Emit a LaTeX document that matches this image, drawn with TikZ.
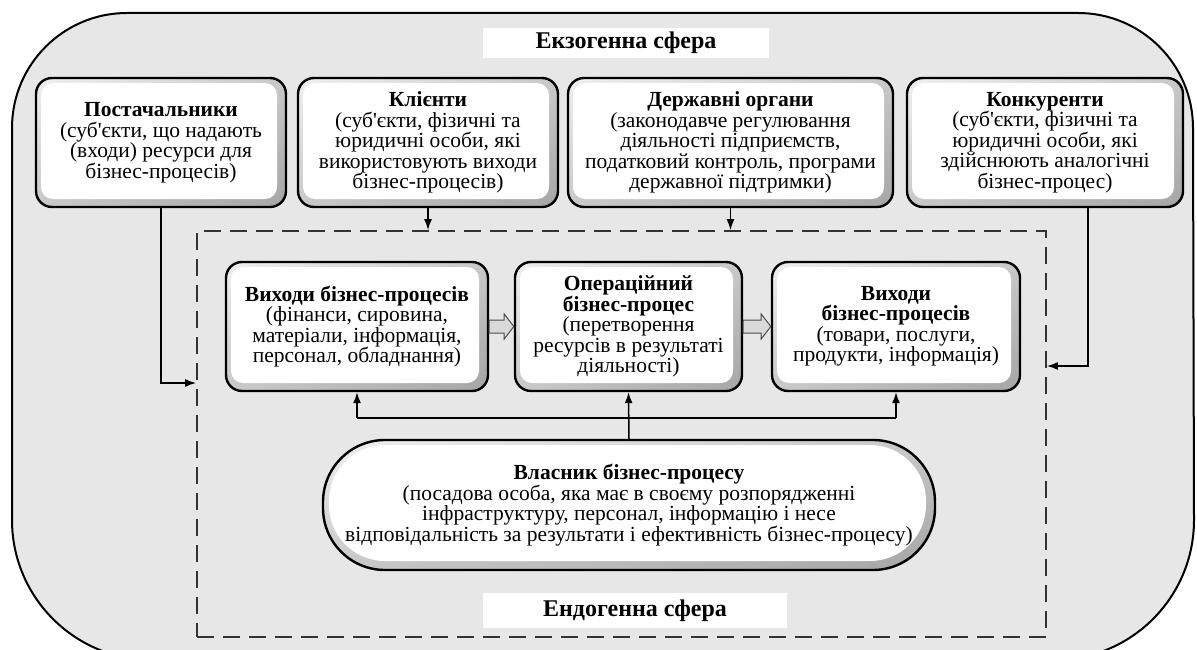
\documentclass[tikz,border=0pt]{standalone}
\usepackage{fontspec}
\setmainfont{Liberation Serif}[Ligatures=TeXOff]
\usetikzlibrary{calc,arrows.meta,shadings}
\definecolor{bgc}{RGB}{231,231,231}
\definecolor{bandlt}{RGB}{240,240,240}
\definecolor{bandmd}{RGB}{200,200,200}
\definecolor{banddk}{RGB}{165,165,165}
\tikzset{
  bev/.style={draw=black, line width=2.4pt, rounded corners=16pt, align=center, inner sep=0pt,
    path picture={
      \shade[upper left=bandlt, upper right=bandmd, lower left=bandmd, lower right=banddk]
        (path picture bounding box.south west) rectangle (path picture bounding box.north east);
      \fill[white, rounded corners=12pt]
        ([shift={(5pt,8pt)}]path picture bounding box.south west) rectangle
        ([shift={(-9pt,-5pt)}]path picture bounding box.north east);
    }},
  pill/.style={draw=black, line width=2.4pt, rounded corners=62pt, align=center, inner sep=0pt,
    path picture={
      \shade[upper left=bandlt, upper right=bandmd, lower left=bandmd, lower right=banddk]
        (path picture bounding box.south west) rectangle (path picture bounding box.north east);
      \fill[white, rounded corners=56pt]
        ([shift={(6pt,9pt)}]path picture bounding box.south west) rectangle
        ([shift={(-9pt,-5pt)}]path picture bounding box.north east);
    }},
  lbl/.style={fill=white, inner sep=0pt, font=\fontsize{24}{26}\selectfont\bfseries},
  arr/.style={draw=black, line width=1.5pt, -{Latex[length=11pt,width=8pt]}},
  ln/.style={draw=black, line width=1.5pt},
  barrow/.style={draw=gray!60!black, line width=1pt, fill=gray!30},
  endozone/.style={draw=black!80, line width=1.8pt, dash pattern=on 17pt off 9pt, inner sep=0pt}
}
\begin{document}
\begin{tikzpicture}[x=1pt, y=-1pt, font=\fontsize{21.5}{20.5}\selectfont]
\useasboundingbox (0,0) rectangle (1197,650);
\fill[white] (0,0) rectangle (1197,650);
% outer exogenous sphere
\draw[line width=2pt, fill=bgc]
  (127,13) -- (1078,13) arc[start angle=90, end angle=0, radius=115pt]
  -- (1194,520) arc[start angle=0, end angle=-90, radius=140pt]
  -- (152,660) arc[start angle=-90, end angle=-180, radius=140pt]
  -- (12,128) arc[start angle=180, end angle=90, radius=115pt] -- cycle;

\node[lbl, minimum width=286pt, minimum height=30pt] (exo) at (626,43) {Екзогенна сфера};

% endogenous zone
\node[endozone, minimum width=849pt, minimum height=406pt] (endo) at (621.5,434) {};
\node[lbl, minimum width=304pt, minimum height=35pt] (endolbl) at (635,610.5) {Ендогенна сфера};

% top boxes
\node[bev, minimum width=250pt, minimum height=129pt] (supp) at (161,142.5)
  {\textbf{Постачальники}\\(суб'єкти, що надають\\(входи) ресурси для\\бізнес-процесів)};
\node[bev, minimum width=260pt, minimum height=129pt] (cli) at (428,142.5)
  {\textbf{Клієнти}\\(суб'єкти, фізичні та\\юридичні особи, які\\використовують виходи\\бізнес-процесів)};
\node[bev, minimum width=325pt, minimum height=129pt] (gov) at (730.5,142.5)
  {\textbf{Державні органи}\\(законодавче регулювання\\діяльності підприємств,\\податковий контроль, програми\\державної підтримки)};
\node[bev, minimum width=276pt, minimum height=129pt] (comp) at (1045,142.5)
  {\textbf{Конкуренти}\\(суб'єкти, фізичні та\\юридичні особи, які\\здійснюють аналогічні\\бізнес-процес)};

% middle boxes
\node[bev, minimum width=262pt, minimum height=129pt] (inp) at (357,326.5)
  {\textbf{Виходи бізнес-процесів}\\(фінанси, сировина,\\матеріали, інформація,\\персонал, обладнання)};
\node[bev, minimum width=227pt, minimum height=129pt] (op) at (628.5,326.5)
  {\textbf{Операційний}\\\textbf{бізнес-процес}\\(перетворення\\ресурсів в результаті\\діяльності)};
\node[bev, minimum width=248pt, minimum height=129pt] (out) at (896,326.5)
  {\textbf{Виходи}\\\textbf{бізнес-процесів}\\(товари, послуги,\\продукти, інформація)};

% owner
\node[pill, minimum width=612pt, minimum height=130pt] (own) at (629,505)
  {\textbf{Власник бізнес-процесу}\\(посадова особа, яка має в своєму розпорядженні\\інфраструктуру, персонал, інформацію і несе\\відповідальність за результати і ефективність бізнес-процесу)};

% block arrows
\draw[barrow] ($(inp.east)+(0,-6.5)$) -- ++(15,0) -- ++(0,-6) -- (op.west)
  -- ($(inp.east)+(15,12.5)$) -- ++(0,-6) -- ($(inp.east)+(0,6.5)$) -- cycle;
\draw[barrow] ($(op.east)+(0,-6.5)$) -- ++(18,0) -- ++(0,-6) -- (out.west)
  -- ($(op.east)+(18,12.5)$) -- ++(0,-6) -- ($(op.east)+(0,6.5)$) -- cycle;

% connectors from the external sphere
\draw[arr] (supp.south) |- ([yshift=51pt]endo.west);
\draw[arr] (cli.south) -- (cli.south |- endo.north);
\draw[arr] (gov.south) -- (gov.south |- endo.north);
\draw[arr] ([xshift=43pt]comp.south) |- ([yshift=68pt]endo.east);

% owner connectors
\coordinate (j) at (628.5,418);
\draw[arr] (own.north) -- (op.south);
\draw[ln] (inp.south |- j) -- (out.south |- j);
\draw[arr] (inp.south |- j) -- (inp.south);
\draw[arr] (out.south |- j) -- (out.south);
\end{tikzpicture}
\end{document}
